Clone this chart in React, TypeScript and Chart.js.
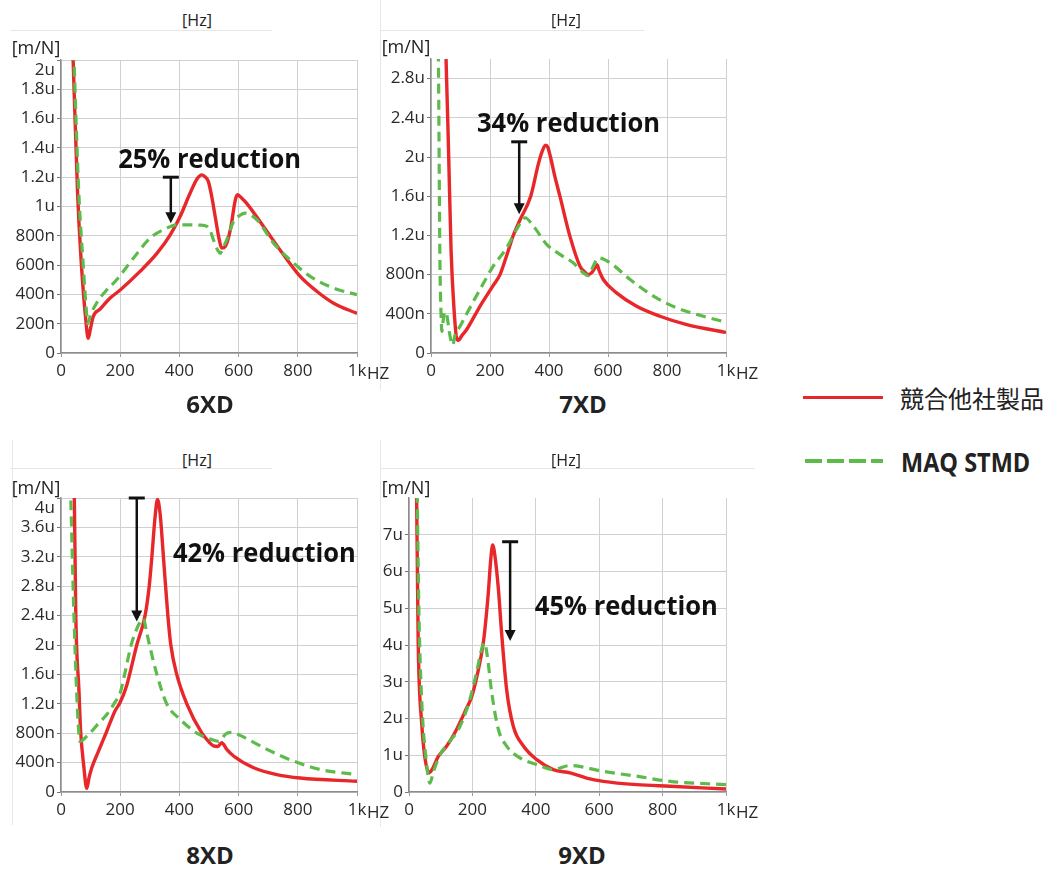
import React, { useEffect, useRef } from "react";
import { Chart, registerables } from "chart.js";
Chart.register(...registerables);

// ---------- data (frequency in Hz, compliance in µm/N) ----------
const xTickValues = [0, 200, 400, 600, 800, 1000];
const xTickLabels = ["0", "200", "400", "600", "800", "1k"];

const yTicks6 = [0, 0.2, 0.4, 0.6, 0.8, 1, 1.2, 1.4, 1.6, 1.8, 2];
const yLabels6 = ["0", "200n", "400n", "600n", "800n", "1u", "1.2u", "1.4u", "1.6u", "1.8u", "2u"];
const yTicks7 = [0, 0.4, 0.8, 1.2, 1.6, 2, 2.4, 2.8];
const yLabels7 = ["0", "400n", "800n", "1.2u", "1.6u", "2u", "2.4u", "2.8u"];
const yTicks8 = [0, 0.4, 0.8, 1.2, 1.6, 2, 2.4, 2.8, 3.2, 3.6, 4];
const yLabels8 = ["0", "400n", "800n", "1.2u", "1.6u", "2u", "2.4u", "2.8u", "3.2u", "3.6u", "4u"];
const yTicks9 = [0, 1, 2, 3, 4, 5, 6, 7];
const yLabels9 = ["0", "1u", "2u", "3u", "4u", "5u", "6u", "7u"];
const yMax = [2, 3, 4, 8];

const seriesNames = ["競合他社製品", "MAQ STMD"];
const panelTitles = ["6XD", "7XD", "8XD", "9XD"];

const f6Red = [33, 41, 56, 68, 85, 92, 100, 109, 132, 166, 200, 267, 324, 369, 402, 436, 460, 476, 488, 498, 510, 521, 535, 543, 555, 572, 589, 596, 611, 628, 684, 752, 808, 865, 921, 1000];
const v6Red = [2.5, 2.0, 1.09, 0.63, 0.2, 0.1, 0.17, 0.25, 0.3, 0.375, 0.43, 0.557, 0.68, 0.807, 0.93, 1.09, 1.19, 1.216, 1.2, 1.17, 1.06, 0.93, 0.77, 0.716, 0.727, 0.84, 1.045, 1.08, 1.057, 1.02, 0.864, 0.67, 0.523, 0.42, 0.34, 0.27];
const f6Green = [36, 44, 60, 75, 86, 90, 100, 126, 150, 188, 245, 301, 357, 391, 425, 470, 493, 505, 515, 530, 538, 548, 560, 583, 605, 622, 662, 718, 786, 842, 921, 1000];
const v6Green = [2.5, 2.0, 1.1, 0.6, 0.28, 0.2, 0.26, 0.36, 0.42, 0.5, 0.648, 0.784, 0.852, 0.875, 0.875, 0.873, 0.864, 0.83, 0.773, 0.7, 0.68, 0.72, 0.773, 0.898, 0.94, 0.955, 0.909, 0.75, 0.614, 0.523, 0.443, 0.398];

const f7Red = [45, 51, 60, 68, 78, 87, 93, 105, 121, 166, 211, 234, 256, 279, 302, 338, 364, 376, 388, 396, 405, 420, 437, 471, 505, 520, 533, 545, 556, 563, 570, 584, 629, 697, 776, 867, 1000];
const v7Red = [3.4, 3.0, 2.0, 1.05, 0.45, 0.15, 0.13, 0.18, 0.24, 0.477, 0.69, 0.8, 0.99, 1.2, 1.36, 1.6, 1.93, 2.05, 2.12, 2.1, 2.0, 1.8, 1.6, 1.19, 0.886, 0.83, 0.8, 0.82, 0.87, 0.9, 0.84, 0.75, 0.614, 0.477, 0.375, 0.29, 0.21];
const f7Green = [20, 25, 30, 34, 37, 42, 47, 53, 58, 66, 74, 81, 100, 121, 166, 211, 256, 290, 319, 347, 392, 437, 482, 516, 533, 550, 567, 607, 675, 754, 833, 923, 1000];
const v7Green = [3.4, 3.0, 1.0, 0.4, 0.22, 0.35, 0.42, 0.4, 0.3, 0.15, 0.08, 0.18, 0.28, 0.4, 0.648, 0.886, 1.07, 1.26, 1.38, 1.296, 1.108, 1.006, 0.92, 0.818, 0.79, 0.886, 0.97, 0.92, 0.75, 0.58, 0.46, 0.375, 0.314];

const f8Red = [42, 45, 50, 61, 66, 77, 87, 95, 104, 126, 154, 182, 200, 222, 256, 284, 298, 307, 318, 326, 335, 346, 361, 371, 391, 425, 476, 500, 515, 530, 543, 560, 583, 651, 729, 808, 1000];
const v8Red = [4.4, 4.0, 2.4, 1.35, 0.85, 0.35, 0.05, 0.2, 0.33, 0.55, 0.82, 1.1, 1.22, 1.45, 2.0, 2.4, 2.8, 3.2, 3.75, 3.98, 3.78, 3.2, 2.4, 2.0, 1.6, 1.2, 0.8, 0.68, 0.626, 0.62, 0.67, 0.58, 0.49, 0.33, 0.237, 0.19, 0.146];
const f8Green = [30, 33, 43, 53, 59, 64, 90, 109, 126, 154, 182, 200, 215, 237, 256, 270, 278, 288, 299, 324, 357, 402, 459, 504, 532, 560, 580, 605, 696, 786, 876, 1000];
const v8Green = [4.4, 4.0, 2.5, 1.35, 0.88, 0.69, 0.77, 0.85, 0.93, 1.05, 1.22, 1.35, 1.6, 2.0, 2.22, 2.33, 2.36, 2.2, 2.0, 1.6, 1.2, 0.99, 0.8, 0.72, 0.69, 0.8, 0.81, 0.77, 0.58, 0.42, 0.306, 0.237];

const f9Red = [20, 24, 29, 40, 50, 63, 72, 92, 119, 145, 180, 198, 213, 235, 250, 258, 264, 271, 282, 292, 308, 329, 361, 403, 455, 508, 560, 613, 718, 823, 1000];
const v9Red = [9, 8.0, 4.06, 1.88, 0.95, 0.52, 0.6, 0.96, 1.25, 1.62, 2.25, 2.6, 3.1, 4.1, 5.4, 6.34, 6.72, 6.43, 5.52, 4.34, 2.79, 1.79, 1.25, 0.88, 0.61, 0.52, 0.38, 0.29, 0.2, 0.155, 0.08];
const f9Green = [22, 26, 31, 40, 55, 66, 77, 98, 129, 161, 192, 213, 229, 238, 247, 261, 282, 308, 350, 403, 455, 508, 613, 718, 823, 1000];
const v9Green = [9, 8.0, 5.0, 2.5, 0.8, 0.24, 0.55, 1.02, 1.38, 1.79, 2.52, 3.25, 3.88, 4.06, 3.7, 2.7, 1.7, 1.25, 0.93, 0.745, 0.61, 0.72, 0.56, 0.43, 0.29, 0.2];

// annotations: arrow x (Hz), arrow top / tip (µm/N), text, text x (Hz), text y (µm/N)
const annotTexts = ["25% reduction", "34% reduction", "42% reduction", "45% reduction"];
const arrowX = [371, 299, 256, 319];
const arrowTop = [1.2, 2.155, 4.0, 6.81];
const arrowTip = [0.886, 1.415, 2.32, 4.11];
const textX = [193, 156, 378, 397];
const textY = [1.317, 2.33, 3.24, 5.02];

// ---------- styles ----------
const RED = "#e8272b";
const GREEN = "#5cbb4b";
const FONT = "'Open Sans', 'Liberation Sans', sans-serif";

type Layout = { cx: number; cy: number; cw: number; ch: number; l: number; t: number; r: number; b: number; yw: number };
const layouts: Layout[] = [
  { cx: 0, cy: 36, cw: 380, ch: 352, l: 61, t: 60, r: 357, b: 353, yw: 55 },
  { cx: 375, cy: 35, cw: 370, ch: 352, l: 431, t: 59, r: 726, b: 353, yw: 55 },
  { cx: 0, cy: 474, cw: 380, ch: 352, l: 61, t: 498, r: 357, b: 792, yw: 55 },
  { cx: 375, cy: 474, cw: 370, ch: 352, l: 409, t: 498, r: 726, b: 792, yw: 30 },
];
const XH = 30;

const pts = (f: number[], v: number[]) => f.map((x, i) => ({ x, y: v[i] }));

const annotPlugin = {
  id: "annot",
  afterDatasetsDraw(chart: any, _args: any, o: any) {
    const { ctx, scales } = chart;
    const x = scales.x, y = scales.y;
    const px = x.getPixelForValue(o.ax);
    const pTop = y.getPixelForValue(o.top);
    const pTip = y.getPixelForValue(o.tip);
    ctx.save();
    ctx.strokeStyle = "#111";
    ctx.fillStyle = "#111";
    ctx.lineWidth = 3;
    ctx.beginPath();
    ctx.moveTo(px - 8, pTop);
    ctx.lineTo(px + 8, pTop);
    ctx.stroke();
    ctx.lineWidth = 2.5;
    ctx.beginPath();
    ctx.moveTo(px, pTop);
    ctx.lineTo(px, pTip - 9);
    ctx.stroke();
    ctx.beginPath();
    ctx.moveTo(px - 5.5, pTip - 11);
    ctx.lineTo(px + 5.5, pTip - 11);
    ctx.lineTo(px, pTip);
    ctx.closePath();
    ctx.fill();
    ctx.font = "bold 27px " + FONT;
    ctx.textBaseline = "middle";
    ctx.textAlign = "left";
    ctx.fillText(o.text, x.getPixelForValue(o.tx), y.getPixelForValue(o.ty), 183);
    ctx.restore();
  },
};

function Panel({ idx, red, green, yTicks, yLabels }: any) {
  const ref = useRef<HTMLCanvasElement>(null);
  const L = layouts[idx];
  useEffect(() => {
    const padL = L.l - L.cx - L.yw;
    const padT = L.t - L.cy;
    const padR = L.cx + L.cw - L.r;
    const padB = L.cy + L.ch - L.b - XH;
    const top = yMax[idx];
    const chart = new Chart(ref.current as HTMLCanvasElement, {
      type: "line",
      data: {
        datasets: [
          {
            label: seriesNames[1],
            data: green,
            borderColor: GREEN,
            borderWidth: 3.2,
            borderDash: [10, 6],
            pointRadius: 0,
            cubicInterpolationMode: "monotone",
            fill: false,
          },
          {
            label: seriesNames[0],
            data: red,
            borderColor: RED,
            borderWidth: 3.4,
            pointRadius: 0,
            cubicInterpolationMode: "monotone",
            fill: false,
          },
        ],
      },
      options: {
        responsive: false,
        animation: false,
        layout: { padding: { left: padL, top: padT, right: padR, bottom: padB } },
        plugins: {
          legend: { display: false },
          tooltip: { enabled: false },
          annot: {
            ax: arrowX[idx],
            top: arrowTop[idx],
            tip: arrowTip[idx],
            text: annotTexts[idx],
            tx: textX[idx],
            ty: textY[idx],
          },
        } as any,
        scales: {
          x: {
            type: "linear",
            min: 0,
            max: 1000,
            afterBuildTicks: (s: any) => {
              s.ticks = xTickValues.map((v) => ({ value: v }));
            },
            afterFit: (s: any) => {
              s.height = XH;
            },
            ticks: {
              autoSkip: false,
              maxRotation: 0,
              padding: 4,
              color: "#2a2a2a",
              font: { family: FONT, size: 17 },
              callback: (_v: any, i: number) => xTickLabels[i],
            },
            grid: { color: "#d0d0d0", tickLength: 4, tickColor: "#999" },
            border: { color: "#8c8c8c", width: 1.5 },
          },
          y: {
            type: "linear",
            min: 0,
            max: top,
            afterBuildTicks: (s: any) => {
              s.ticks = yTicks.map((v: number) => ({ value: v }));
            },
            afterFit: (s: any) => {
              s.width = L.yw;
            },
            ticks: {
              autoSkip: false,
              padding: 2,
              color: "#2a2a2a",
              font: { family: FONT, size: 17 },
              // the label at the very top edge sits just inside the plot, as in the reference
              callback: (v: any, i: number) => (Math.abs(v - top) < 1e-9 ? ["", yLabels[i]] : yLabels[i]),
            },
            grid: { color: "#d0d0d0", tickLength: 4, tickColor: "#777" },
            border: { color: "#8c8c8c", width: 1.5 },
          },
        },
      },
      plugins: [annotPlugin as any],
    });
    return () => chart.destroy();
  }, []);
  return (
    <canvas
      ref={ref}
      width={L.cw}
      height={L.ch}
      style={{ position: "absolute", left: L.cx, top: L.cy, width: L.cw, height: L.ch }}
    />
  );
}

const centered = (x: number, y: number, style: any, text: string) => (
  <div
    style={{
      position: "absolute",
      left: x,
      top: y,
      transform: "translate(-50%, -50%)",
      whiteSpace: "nowrap",
      lineHeight: 1,
      ...style,
    }}
  >
    {text}
  </div>
);

const leftText = (x: number, y: number, style: any, text: string) => (
  <div
    style={{
      position: "absolute",
      left: x,
      top: y,
      transform: "translateY(-50%)",
      whiteSpace: "nowrap",
      lineHeight: 1,
      ...style,
    }}
  >
    {text}
  </div>
);

export default function App() {
  const hz = { fontFamily: FONT, fontSize: 16, color: "#222" };
  const mn = { fontFamily: FONT, fontSize: 18, color: "#222" };
  const ttl = { fontFamily: FONT, fontSize: 24, fontWeight: 700, color: "#222" };
  const tick = { fontFamily: FONT, fontSize: 17, color: "#2a2a2a" };
  const faint = "#e6e8e6";
  return (
    <div style={{ position: "absolute", left: 0, top: 0, width: 1063, height: 870, background: "#fff", overflow: "hidden" }}>
      {/* faint frame lines */}
      <div style={{ position: "absolute", left: 10, top: 30, width: 262, height: 1, background: faint }} />
      <div style={{ position: "absolute", left: 380, top: 30, width: 264, height: 1, background: faint }} />
      <div style={{ position: "absolute", left: 10, top: 468, width: 262, height: 1, background: faint }} />
      <div style={{ position: "absolute", left: 380, top: 468, width: 375, height: 1, background: faint }} />
      <div style={{ position: "absolute", left: 380, top: 0, width: 1, height: 390, background: faint }} />
      <div style={{ position: "absolute", left: 12, top: 440, width: 1, height: 385, background: faint }} />
      <div style={{ position: "absolute", left: 380, top: 440, width: 1, height: 387, background: faint }} />

      <Panel idx={0} red={pts(f6Red, v6Red)} green={pts(f6Green, v6Green)} yTicks={yTicks6} yLabels={yLabels6} />
      <Panel idx={1} red={pts(f7Red, v7Red)} green={pts(f7Green, v7Green)} yTicks={yTicks7} yLabels={yLabels7} />
      <Panel idx={2} red={pts(f8Red, v8Red)} green={pts(f8Green, v8Green)} yTicks={yTicks8} yLabels={yLabels8} />
      <Panel idx={3} red={pts(f9Red, v9Red)} green={pts(f9Green, v9Green)} yTicks={yTicks9} yLabels={yLabels9} />

      {centered(197, 20, hz, "[Hz]")}
      {centered(566, 20, hz, "[Hz]")}
      {centered(197, 460, hz, "[Hz]")}
      {centered(566, 460, hz, "[Hz]")}

      {centered(36, 47, mn, "[m/N]")}
      {centered(406, 46, mn, "[m/N]")}
      {centered(36, 487, mn, "[m/N]")}
      {centered(406, 487, mn, "[m/N]")}

      {leftText(367, 372, tick, "HZ")}
      {leftText(736, 372, tick, "HZ")}
      {leftText(367, 811, tick, "HZ")}
      {leftText(736, 811, tick, "HZ")}

      {centered(210, 404, ttl, panelTitles[0])}
      {centered(583, 404, ttl, panelTitles[1])}
      {centered(210, 855, ttl, panelTitles[2])}
      {centered(582, 855, ttl, panelTitles[3])}

      {/* legend */}
      <div style={{ position: "absolute", left: 803, top: 396, width: 80, height: 3, background: RED }} />
      {leftText(900, 398, { fontFamily: "'Noto Sans CJK JP', sans-serif", fontSize: 24, color: "#222" }, seriesNames[0])}
      <div
        style={{
          position: "absolute",
          left: 805,
          top: 459,
          width: 78,
          height: 3.5,
          background: `repeating-linear-gradient(to right, ${GREEN} 0px, ${GREEN} 17px, transparent 17px, transparent 22px)`,
        }}
      />
      <div
        style={{
          position: "absolute",
          left: 901,
          top: 461,
          transform: "translateY(-50%) scaleX(0.87)",
          transformOrigin: "left center",
          whiteSpace: "nowrap",
          lineHeight: 1,
          fontFamily: FONT,
          fontSize: 27,
          fontWeight: 700,
          color: "#222",
        }}
      >
        {seriesNames[1]}
      </div>
    </div>
  );
}
